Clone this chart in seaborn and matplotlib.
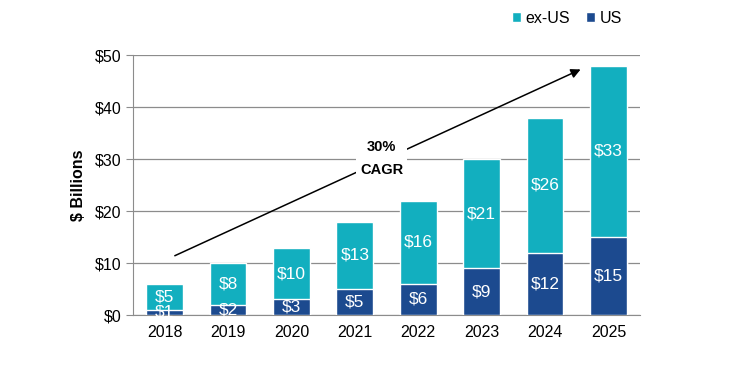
import matplotlib.pyplot as plt
import numpy as np
import pandas as pd
import seaborn as sns

# values ($ billions)
years = ['2018', '2019', '2020', '2021', '2022', '2023', '2024', '2025']
us = [1, 2, 3, 5, 6, 9, 12, 15]
ex_us = [5, 8, 10, 13, 16, 21, 26, 33]

teal = '#12AFBF'
navy = '#1C4A8F'

sns.set_style('white')
plt.rcParams['font.family'] = ['Liberation Sans', 'DejaVu Sans']
plt.rcParams['text.color'] = 'black'
plt.rcParams['axes.labelcolor'] = 'black'
plt.rcParams['xtick.labelcolor'] = 'black'
plt.rcParams['ytick.labelcolor'] = 'black'

df = pd.DataFrame({'year': years, 'US': us, 'ex-US': ex_us})
df['total'] = df['US'] + df['ex-US']

fig = plt.figure(figsize=(7.47, 3.76), dpi=100)
ax = fig.add_axes([0.178, 0.162, 0.679, 0.691])

# stacked: total bar in teal, US part drawn over it
sns.barplot(data=df, x='year', y='total', color=teal, width=0.58, saturation=1,
            ax=ax, label='ex-US', zorder=3)
sns.barplot(data=df, x='year', y='US', color=navy, width=0.58, saturation=1,
            ax=ax, label='US', zorder=3)

for i, row in df.iterrows():
    ax.text(i, row['US'] / 2, f"${row['US']}", ha='center', va='center',
            color='white', fontsize=12.5, zorder=4)
    ax.text(i, row['US'] + row['ex-US'] / 2, f"${row['ex-US']}", ha='center',
            va='center', color='white', fontsize=12.5, zorder=4)

ax.set_ylim(0, 50)
ax.set_xlim(-0.5, 7.5)
ax.set_yticks(np.arange(0, 51, 10))
ax.set_yticklabels([f'${v}' for v in range(0, 51, 10)])
ax.yaxis.grid(True, color='#8c8c8c', linewidth=0.9, zorder=0)
ax.set_axisbelow(True)
for s in ['top', 'right']:
    ax.spines[s].set_visible(False)
for s in ['left', 'bottom']:
    ax.spines[s].set_color('#8c8c8c')
ax.set_xticks(np.arange(-0.5, 8, 1), minor=True)
ax.tick_params(axis='x', which='major', length=0, labelsize=11.5, pad=7)
ax.tick_params(axis='x', which='minor', length=5, color='#8c8c8c', direction='out')
ax.tick_params(axis='y', length=5, color='#8c8c8c', direction='out', labelsize=11.5)
ax.tick_params(axis='y', which='major', left=True)
ax.set_xlabel('')
ax.set_ylabel('$ Billions', fontsize=11.5, fontweight='bold', labelpad=6)

# CAGR arrow
ax.annotate('', xy=(6.6, 47.5), xytext=(0.12, 11.2),
            arrowprops=dict(arrowstyle='-|>', color='black', lw=1.1,
                            mutation_scale=14), zorder=5)
ax.text(3.42, 30.2, '30%\nCAGR', ha='center', va='center', fontsize=10.5,
        fontweight='bold', linespacing=1.8, zorder=6,
        bbox=dict(facecolor='white', edgecolor='none', pad=3))

handles, labels = ax.get_legend_handles_labels()
ax.get_legend().remove()
fig.legend(handles, labels, loc='upper right', bbox_to_anchor=(0.852, 1.01),
           ncol=2, frameon=False, fontsize=11.5, handlelength=0.55,
           handleheight=0.55, handletextpad=0.3, columnspacing=1.0)

fig.savefig('out.png', dpi=100)
